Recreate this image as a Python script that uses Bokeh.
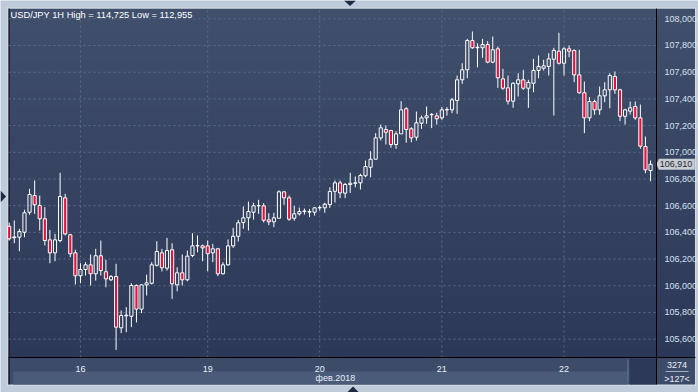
import numpy as np
from bokeh.plotting import figure
from bokeh.models import (FixedTicker, CustomJSTickFormatter, Label, Range1d, ColumnDataSource)
from bokeh.embed import file_html
from bokeh.resources import INLINE

# ---------------- data (USD/JPY, 1H candles) ----------------
opens = [106.446, 106.360, 106.364, 106.401, 106.551, 106.676, 106.601, 106.502, 106.344, 106.247,
         106.339, 106.659, 106.382, 106.247, 106.075, 106.122, 106.157, 106.090, 106.225, 106.105,
         106.045, 106.069, 105.685, 105.775, 105.772, 106.002, 105.825, 106.007, 106.019, 106.154,
         106.247, 106.132, 106.270, 106.007, 106.097, 106.045, 106.227, 106.299, 106.299, 106.299,
         106.247, 106.277, 106.090, 106.157, 106.299, 106.371, 106.474, 106.509, 106.551, 106.599,
         106.599, 106.494, 106.479, 106.506, 106.704, 106.659, 106.506, 106.539, 106.557, 106.552,
         106.551, 106.584, 106.584, 106.609, 106.708, 106.771, 106.694, 106.759, 106.768, 106.771,
         106.824, 106.888, 106.948, 107.108, 107.171, 107.163, 107.058, 107.138, 107.326, 107.176,
         107.113, 107.218, 107.258, 107.281, 107.273, 107.258, 107.318, 107.318, 107.388, 107.543,
         107.618, 107.837, 107.783, 107.783, 107.807, 107.675, 107.775, 107.550, 107.483, 107.383,
         107.513, 107.543, 107.480, 107.517, 107.613, 107.630, 107.643, 107.697, 107.757, 107.667,
         107.775, 107.763, 107.580, 107.446, 107.258, 107.380, 107.318, 107.423, 107.468, 107.568,
         107.468, 107.270, 107.308, 107.343, 107.258, 107.043, 106.863]
highs = [106.474, 106.489, 106.427, 106.569, 106.726, 106.789, 106.676, 106.589, 106.419, 106.389,
         106.846, 106.689, 106.389, 106.270, 106.169, 106.177, 106.234, 106.277, 106.339, 106.195,
         106.080, 106.165, 105.815, 105.840, 106.019, 106.010, 106.010, 106.084, 106.177, 106.334,
         106.277, 106.359, 106.319, 106.139, 106.234, 106.264, 106.394, 106.377, 106.309, 106.339,
         106.314, 106.284, 106.177, 106.347, 106.434, 106.494, 106.594, 106.631, 106.622, 106.644,
         106.619, 106.544, 106.547, 106.714, 106.709, 106.676, 106.599, 106.586, 106.579, 106.574,
         106.589, 106.601, 106.622, 106.738, 106.789, 106.789, 106.771, 106.846, 106.819, 106.839,
         106.938, 107.008, 107.143, 107.208, 107.201, 107.168, 107.158, 107.383, 107.338, 107.188,
         107.305, 107.275, 107.343, 107.293, 107.296, 107.338, 107.338, 107.408, 107.575, 107.667,
         107.850, 107.905, 107.817, 107.850, 107.832, 107.867, 107.792, 107.625, 107.575, 107.525,
         107.592, 107.618, 107.543, 107.700, 107.725, 107.693, 107.742, 107.783, 107.895, 107.787,
         107.800, 107.770, 107.768, 107.530, 107.413, 107.393, 107.493, 107.525, 107.592, 107.605,
         107.476, 107.326, 107.380, 107.380, 107.358, 107.118, 106.938]
lows = [106.339, 106.319, 106.259, 106.364, 106.532, 106.539, 106.414, 106.302, 106.169, 106.184,
        106.326, 106.377, 106.214, 106.010, 106.019, 106.077, 106.002, 106.039, 106.077, 105.989,
        106.035, 105.520, 105.645, 105.652, 105.690, 105.725, 105.795, 105.927, 106.010, 106.144,
        106.107, 106.114, 105.902, 105.959, 106.002, 106.034, 106.214, 106.251, 106.184, 106.109,
        106.177, 106.072, 106.084, 106.150, 106.284, 106.332, 106.427, 106.414, 106.496, 106.539,
        106.474, 106.454, 106.439, 106.506, 106.607, 106.487, 106.487, 106.526, 106.534, 106.514,
        106.526, 106.564, 106.547, 106.584, 106.624, 106.656, 106.656, 106.696, 106.738, 106.721,
        106.813, 106.813, 106.948, 107.088, 107.058, 107.034, 107.026, 107.138, 107.071, 107.075,
        107.088, 107.176, 107.213, 107.181, 107.208, 107.243, 107.275, 107.293, 107.288, 107.513,
        107.555, 107.775, 107.637, 107.708, 107.667, 107.667, 107.483, 107.468, 107.358, 107.333,
        107.418, 107.468, 107.333, 107.450, 107.555, 107.613, 107.575, 107.275, 107.658, 107.575,
        107.712, 107.525, 107.438, 107.143, 107.233, 107.281, 107.281, 107.375, 107.330, 107.438,
        107.233, 107.208, 107.283, 107.243, 107.026, 106.843, 106.783]
closes = [106.352, 106.366, 106.407, 106.547, 106.684, 106.607, 106.502, 106.339, 106.247, 106.344,
          106.669, 106.389, 106.240, 106.075, 106.122, 106.157, 106.090, 106.225, 106.114, 106.052,
          106.069, 105.690, 105.777, 105.780, 106.002, 105.825, 106.007, 106.022, 106.157, 106.257,
          106.135, 106.264, 106.015, 106.097, 106.045, 106.222, 106.299, 106.301, 106.284, 106.240,
          106.277, 106.090, 106.157, 106.299, 106.371, 106.472, 106.509, 106.556, 106.599, 106.601,
          106.491, 106.479, 106.509, 106.704, 106.659, 106.499, 106.539, 106.556, 106.560, 106.556,
          106.584, 106.586, 106.611, 106.706, 106.771, 106.696, 106.759, 106.768, 106.771, 106.826,
          106.893, 106.948, 107.108, 107.183, 107.150, 107.058, 107.138, 107.318, 107.171, 107.108,
          107.221, 107.258, 107.273, 107.284, 107.251, 107.318, 107.320, 107.393, 107.543, 107.618,
          107.837, 107.783, 107.787, 107.807, 107.675, 107.768, 107.558, 107.480, 107.383, 107.517,
          107.543, 107.480, 107.523, 107.613, 107.643, 107.648, 107.700, 107.763, 107.667, 107.775,
          107.757, 107.580, 107.446, 107.258, 107.380, 107.318, 107.423, 107.468, 107.575, 107.468,
          107.270, 107.318, 107.333, 107.258, 107.046, 106.869, 106.910]

day_ticks = [14, 39, 61, 85, 109]            # first bar of each day
day_labels = ["16", "19", "20", "21", "22"]
price_ticks = [105.6, 105.8, 106.0, 106.2, 106.4, 106.6, 106.8,
               107.0, 107.2, 107.4, 107.6, 107.8, 108.0]
title_text = "USD/JPY 1H High = 114,725 Low = 112,955"
month_label = "фев.2018"
last_price = 106.910
last_price_text = "106,910"
bars_total = "3274"
bars_visible = ">127<"

# ---------------- layout helpers (canvas px -> data coords) ----------------
X0_PAGE, X_STEP = 8.7, 5.09
Y_TOP_VAL, Y_PX = 108.137, 133.5


def xd(px):
    return (px - X0_PAGE) / X_STEP


def yd(py):
    return Y_TOP_VAL - py / Y_PX


FONT = "Liberation Sans"
FS = "9px"
RED = "#e5103b"
OUTER = "#bfcada"
AXIS_BG = "#3c4b68"

# the frame spans the whole window (terminal chrome + chart + panels)
xr = Range1d(xd(0), xd(698))
yr = Range1d(yd(392), yd(0))

p = figure(width=698, height=392, x_range=xr, y_range=yr,
           y_axis_location="right", output_backend="svg", toolbar_location=None,
           min_border_left=0, min_border_top=0, min_border_right=0, min_border_bottom=0,
           border_fill_color=OUTER, background_fill_color=OUTER,
           outline_line_color=None)
p.grid.visible = False


def rect(x0, x1, y0, y1, color):
    p.quad(left=xd(x0), right=xd(x1), top=yd(y0), bottom=yd(y1),
           fill_color=color, line_color=None)


# background gradient of chart + price panel
n = 349
top_c = np.array([0x40, 0x4f, 0x6c], dtype=float)
bot_c = np.array([0x2b, 0x38, 0x57], dtype=float)
t = np.linspace(0, 1, n)[:, None]
cols = np.round(bot_c + (top_c - bot_c) * t).astype(np.uint8)
img = np.zeros((n, 1), dtype=np.uint32)
v = img.view(dtype=np.uint8).reshape((n, 1, 4))
v[:, 0, 0] = cols[:, 0]
v[:, 0, 1] = cols[:, 1]
v[:, 0, 2] = cols[:, 2]
v[:, 0, 3] = 255
p.image_rgba(image=[img], x=xd(8), y=yd(357), dw=xd(694.5) - xd(8),
             dh=yd(8) - yd(357), level="image")

# light frame edge, bottom strip, date band
rect(7, 695.5, 7, 8, "#d3dbe6")
rect(7, 8, 7, 385, "#dde4ec")
rect(694.5, 695.5, 7, 385, "#d3dbe6")
rect(7, 695.5, 384, 385, "#dde4ec")
rect(8, 694.5, 357, 384, AXIS_BG)
rect(12.7, 627, 371, 384, "#4a5a79")
rect(627, 628, 359, 383, "#6b7994")
rect(629, 655.5, 358, 384, "#2c3a57")
rect(665, 688, 370.5, 371.5, "#a3aec0")
rect(8, 9, 8, 384, "#000000")

# window chrome arrows
ARROW = "#1d2a42"
arrows_x = [[xd(343.5), xd(355.5), xd(349.5)],
            [xd(346.5), xd(358.5), xd(352.5)],
            [xd(0), xd(0), xd(5.5)]]
arrows_y = [[yd(0), yd(0), yd(5.5)],
            [yd(392), yd(392), yd(386)],
            [yd(190), yd(202), yd(196)]]
p.patches(xs=arrows_x, ys=arrows_y, fill_color=ARROW, line_color=None)

# dashed grid lines
x_lo, x_hi = xd(8), xd(656)
y_lo, y_hi = yd(357), yd(8)
p.segment(x0=[x_lo] * len(price_ticks), y0=price_ticks,
          x1=[x_hi] * len(price_ticks), y1=price_ticks,
          line_color="#5a6c8d", line_dash="2 3", line_width=1)
p.segment(x0=day_ticks, y0=[y_lo] * len(day_ticks),
          x1=day_ticks, y1=[y_hi] * len(day_ticks),
          line_color="#5a6c8d", line_dash="2 3", line_width=1)

# candles
idx = np.arange(len(opens))
o = np.array(opens)
c_ = np.array(closes)
h = np.array(highs)
l = np.array(lows)
btop = np.maximum(o, c_)
bbot = np.minimum(o, c_)
up = c_ >= o

wick = ColumnDataSource(dict(x=np.concatenate([idx, idx]),
                             y0=np.concatenate([h, bbot]),
                             y1=np.concatenate([btop, l])))
p.segment(x0="x", y0="y0", x1="x", y1="y1", source=wick, line_color="white", line_width=1)

src_up = ColumnDataSource(dict(x=idx[up], top=btop[up], bottom=bbot[up]))
src_dn = ColumnDataSource(dict(x=idx[~up], top=btop[~up], bottom=bbot[~up]))
p.vbar(x="x", top="top", bottom="bottom", width=0.62, source=src_up,
       fill_alpha=0, line_color="white", line_width=1)
p.vbar(x="x", top="top", bottom="bottom", width=0.62, source=src_dn,
       fill_color=RED, line_color="white", line_width=1)

# last price tag (box + pointer)
tag_col = "#c8cdd4"
half = 5.5 / Y_PX
p.quad(left=xd(658.3), right=xd(694.3), top=last_price + half, bottom=last_price - half,
       fill_color=tag_col, line_color=None)
p.patch(x=[xd(655.8), xd(658.5), xd(658.5)],
        y=[last_price, last_price + half, last_price - half],
        fill_color=tag_col, line_color=None)

# axes (fixed inside the frame, like the terminal's panels)
ya = p.yaxis[0]
ya.fixed_location = xd(656)
ya.bounds = (yd(384), yd(8))
ya.ticker = FixedTicker(ticks=price_ticks)
ya.formatter = CustomJSTickFormatter(code="return tick.toFixed(3).replace('.', ',')")
ya.axis_line_color = "black"
ya.major_tick_line_color = None
ya.minor_tick_line_color = None
ya.major_label_standoff = 2
ya.major_label_text_color = "#d4e0f0"
ya.major_label_text_font = FONT
ya.major_label_text_font_size = FS

xa = p.xaxis[0]
xa.fixed_location = yd(357)
xa.bounds = (xd(8), xd(694.5))
xa.ticker = FixedTicker(ticks=day_ticks)
xa.major_label_overrides = {t_: s for t_, s in zip(day_ticks, day_labels)}
xa.axis_line_color = "black"
xa.major_tick_line_color = None
xa.minor_tick_line_color = None
xa.major_label_standoff = 2
xa.major_label_text_color = "#e8eef6"
xa.major_label_text_font = FONT
xa.major_label_text_font_size = FS

# texts
p.add_layout(Label(x=xd(10), y=yd(9.5), text=title_text, text_baseline="top",
                   text_align="left", text_color="white", text_font=FONT,
                   text_font_size="9.3px"))
p.add_layout(Label(x=xd(315), y=yd(377.5), text=month_label, text_baseline="middle",
                   text_align="left", text_color="#e8eef6", text_font=FONT,
                   text_font_size=FS))
p.add_layout(Label(x=xd(676.5), y=yd(364.5), text=bars_total, text_baseline="middle",
                   text_align="center", text_color="#e8eef6", text_font=FONT,
                   text_font_size=FS))
p.add_layout(Label(x=xd(676.5), y=yd(378), text=bars_visible, text_baseline="middle",
                   text_align="center", text_color="#e8eef6", text_font=FONT,
                   text_font_size=FS))
p.add_layout(Label(x=xd(659.3), y=last_price, text=last_price_text,
                   text_baseline="middle", text_align="left", text_color="#262626",
                   text_font=FONT, text_font_size=FS))

open("out.html", "w").write(file_html(p, INLINE))
